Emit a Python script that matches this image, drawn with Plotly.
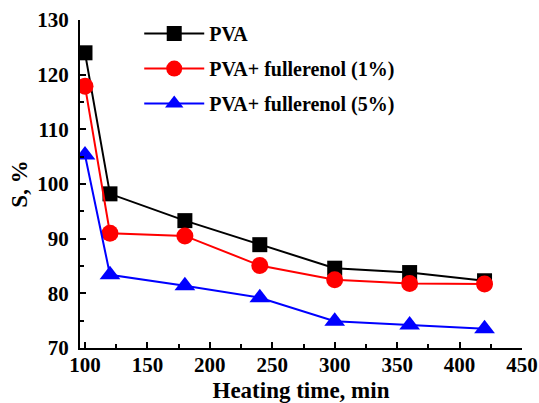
import plotly.graph_objects as go

time_min = [100, 120, 180, 240, 300, 360, 420]
s_pva = [124.0, 98.2, 93.3, 88.9, 84.6, 83.8, 82.3]
s_pva_ful1 = [117.9, 91.0, 90.5, 85.1, 82.5, 81.8, 81.7]
s_pva_ful5 = [105.3, 83.4, 81.4, 79.2, 74.9, 74.2, 73.5]
series_names = ["PVA", "PVA+ fullerenol (1%)", "PVA+ fullerenol (5%)"]

font_family = "Liberation Serif"

fig = go.Figure()
fig.add_trace(go.Scatter(x=time_min, y=s_pva, name=series_names[0], mode="lines+markers",
                         legendgroup="a",
                         line=dict(color="black", width=2),
                         marker=dict(symbol="square", size=15, color="black")))
fig.add_trace(go.Scatter(x=time_min, y=s_pva_ful1, name=series_names[1], mode="lines+markers",
                         legendgroup="b",
                         line=dict(color="red", width=2),
                         marker=dict(symbol="circle", size=17, color="red")))
fig.add_trace(go.Scatter(x=time_min, y=s_pva_ful5, name=series_names[2], mode="lines+markers",
                         legendgroup="c",
                         line=dict(color="blue", width=2),
                         marker=dict(symbol="triangle-up", size=18, color="blue")))

axis_common = dict(showline=True, linecolor="black", linewidth=2, ticks="inside",
                   ticklen=6, tickwidth=2, tickcolor="black", showgrid=False, zeroline=False,
                   tickfont=dict(family=font_family, size=21, color="black"),
                   mirror=False)

fig.update_xaxes(range=[96, 450], tick0=100, dtick=50,
                 minor=dict(ticks="inside", ticklen=4, tickwidth=1.5, tickcolor="black", dtick=25, tick0=100),
                 title=dict(text="<b>Heating time, min</b>", font=dict(family=font_family, size=23, color="black"), standoff=7),
                 tickprefix="<b>", ticksuffix="</b>", ticklabelstandoff=-3,
                 **axis_common)
fig.update_yaxes(range=[70, 130], tick0=70, dtick=10,
                 minor=dict(ticks="inside", ticklen=4, tickwidth=1.5, tickcolor="black", dtick=5, tick0=70),
                 title=dict(text="<b>S, %</b>", font=dict(family=font_family, size=23, color="black"), standoff=3),
                 tickprefix="<b>", ticksuffix="</b>", ticklabelstandoff=5,
                 **axis_common)

fig.update_layout(
    width=539, height=403,
    margin=dict(l=80, r=17, t=20, b=55, autoexpand=False),
    plot_bgcolor="white", paper_bgcolor="white",
    font=dict(family=font_family, color="black"),
    legend=dict(x=0.134, y=1.018, xanchor="left", yanchor="top",
                font=dict(family=font_family, size=20, color="black"),
                bgcolor="rgba(0,0,0,0)", itemwidth=60, tracegroupgap=6,
                traceorder="grouped"),
    showlegend=True,
)
fig.for_each_trace(lambda t: t.update(name="<b>" + t.name + "</b>"))

fig.write_html("out.html",
               config={"displayModeBar": False},
               post_script="document.body.style.margin='0';document.body.style.overflow='hidden';")
